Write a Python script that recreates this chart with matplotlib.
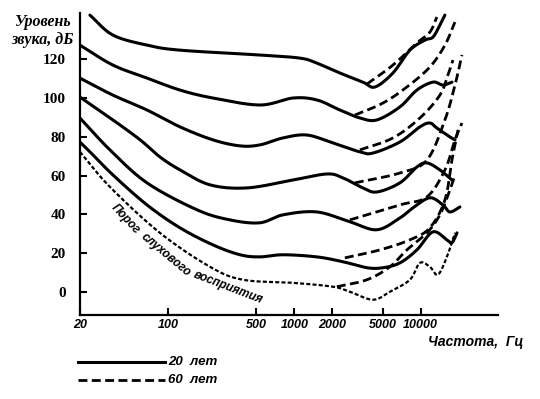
import numpy as np
import matplotlib.pyplot as plt
from matplotlib.lines import Line2D

# кривые равной громкости, 20 лет (сплошные): частота, Гц / уровень, дБ
f_120 = [24.0, 36.5, 68, 124, 532, 1105, 1504, 2290, 3483, 4337, 6016, 8202, 10790, 12470, 14170, 15530]
db_120 = [142.8, 132.5, 127.3, 124.7, 122.2, 120.6, 118, 112.9, 108.2, 105.7, 112.9, 124.7, 129.9, 131.4, 137.6, 142.8]

f_100 = [20, 36.5, 68, 124, 226, 532, 973, 1504, 2290, 3297, 4496, 6834, 9314, 12470, 14970, 17660]
db_100 = [127.3, 117, 110.3, 104.1, 100, 96.4, 100, 99, 93.8, 89.7, 88.7, 95.4, 104.1, 108.2, 106.7, 108.2]

f_80 = [20, 36.5, 68, 124, 226, 370, 532, 811, 1254, 2015, 3297, 4182, 6834, 9843, 11800, 13420, 17020, 18660]
db_80 = [110.3, 101.5, 93.8, 85.1, 78.4, 75.3, 75.8, 79.4, 80.9, 76.8, 72.2, 71.6, 77.3, 85.1, 87.1, 84.5, 79.9, 78.4]

f_60 = [20, 36.5, 60, 86, 124, 214, 421, 973, 1806, 2417, 3483, 4496, 6834, 9314, 11190, 14170, 17660]
db_60 = [100.5, 88.7, 78.4, 69.6, 62.9, 55.2, 53.6, 57.7, 60.8, 58.8, 53.6, 51.5, 56.2, 64.4, 66.5, 62.9, 57.7]

f_40 = [20, 34.6, 68, 169, 308, 532, 811, 1504, 2746, 4496, 6834, 8665, 11800, 14970, 17020, 20430]
db_40 = [89.7, 73.2, 56.2, 42.3, 37.1, 35.6, 39.7, 41.2, 36.1, 32, 38.1, 43.3, 48.5, 44.8, 41.2, 43.8]

f_20 = [20, 23.2, 36.5, 68, 124, 226, 370, 532, 811, 1504, 2417, 3749, 5012, 6834, 9314, 12470, 16100, 17660, 19360]
db_20 = [77.3, 73.2, 60.3, 44.8, 33, 24.2, 19.1, 18, 19.1, 18, 15.5, 12.4, 12.4, 14.9, 21.6, 30.9, 26.8, 25.3, 30.4]

# порог слухового восприятия, 20 лет
f_thr = [20, 34.6, 86, 214, 391, 973, 2015, 2746, 4182, 5700, 8202, 9843, 11800, 13670, 16100, 18660]
db_thr = [72.2, 54.1, 30.4, 12.9, 6.2, 4.6, 2.6, 0, -4.1, 0, 6.2, 14.9, 12.9, 8.8, 18, 30.4]

# 60 лет (штриховые), ответвления в области высоких частот
f_120_old = [3749, 6016, 9314, 11800, 13420]
db_120_old = [107.2, 117, 128.4, 134, 141.8]
f_100_old = [3010, 5012, 7764, 11800, 15530, 18660]
db_100_old = [91.2, 97.4, 105.7, 116, 127.3, 139.2]
f_80_old = [3297, 6016, 9843, 14170, 16400, 17990]
db_80_old = [73.2, 79.4, 89.7, 101.5, 111.9, 119.6]
f_60_old = [3010, 6834, 11190, 15530, 18660, 21190]
db_60_old = [56.2, 61.3, 68, 88.7, 106.7, 122.2]
f_40_old = [2746, 6834, 11190, 15530, 18660, 21190]
db_40_old = [37.1, 44.8, 49, 62.9, 78.4, 87.1]
f_20_old = [2507, 4748, 8202, 11800, 15530, 17660, 19730]
db_20_old = [17.5, 21.6, 26.8, 33, 47.4, 68, 83.5]
f_thr_old = [2167, 3749, 5700, 7764, 11190, 14170, 17020, 18660]
db_thr_old = [2.6, 6.2, 12.9, 21.6, 30.4, 39.7, 52.6, 60.3]

x_ticks = [20, 100, 500, 1000, 2000, 5000, 10000]
y_ticks = [0, 20, 40, 60, 80, 100, 120]


def smooth(f, db, n=24):
    # сглаживание Catmull-Rom в координатах (lg f, дБ)
    pts = np.column_stack([np.log10(f), db])
    p = np.vstack([2 * pts[0] - pts[1], pts, 2 * pts[-1] - pts[-2]])
    t = np.linspace(0, 1, n, endpoint=False)[:, None]
    out = []
    for i in range(1, len(p) - 2):
        p0, p1, p2, p3 = p[i - 1], p[i], p[i + 1], p[i + 2]
        out.append(0.5 * (2 * p1 + (-p0 + p2) * t + (2 * p0 - 5 * p1 + 4 * p2 - p3) * t ** 2
                          + (-p0 + 3 * p1 - 3 * p2 + p3) * t ** 3))
    out.append(p[-2][None, :])
    arr = np.vstack(out)
    return 10 ** arr[:, 0], arr[:, 1]


fig = plt.figure(figsize=(5.4, 3.99), dpi=100)
ax = fig.add_axes([0.148, 0.211, 0.774, 0.756])

for f, db in [(f_120, db_120), (f_100, db_100), (f_80, db_80), (f_60, db_60), (f_40, db_40), (f_20, db_20)]:
    ax.plot(*smooth(f, db), color='black', lw=2.2, solid_capstyle='round')

for f, db in [(f_120_old, db_120_old), (f_100_old, db_100_old), (f_80_old, db_80_old),
              (f_60_old, db_60_old), (f_40_old, db_40_old), (f_20_old, db_20_old), (f_thr_old, db_thr_old)]:
    ax.plot(*smooth(f, db), color='black', lw=2.0, dashes=(3.2, 1.6))

ax.plot(*smooth(f_thr, db_thr), color='black', lw=1.6, dashes=(1.8, 1.0))

ax.set_xscale('log')
ax.set_xlim(20, 40800)
ax.set_ylim(-11.9, 143.8)
ax.set_xticks(x_ticks)
ax.set_xticklabels([str(v) for v in x_ticks], fontfamily='Liberation Sans',
                   fontweight='bold', fontstyle='italic', fontsize=9)
ax.xaxis.set_minor_locator(plt.NullLocator())
ax.set_yticks(y_ticks)
ax.set_yticklabels([str(v) for v in y_ticks], fontfamily='Liberation Serif',
                   fontweight='bold', fontsize=11)
ax.tick_params(axis='x', direction='in', length=5, width=1.5, pad=3)
ax.tick_params(axis='y', direction='in', length=5, width=1.5, pad=10)
for s in ['top', 'right']:
    ax.spines[s].set_visible(False)
for s in ['left', 'bottom']:
    ax.spines[s].set_linewidth(1.6)

fig.text(43 / 540, 1 - 31 / 399, 'Уровень\nзвука, дБ', ha='center', va='center',
         family='Liberation Serif', weight='bold', style='italic', fontsize=11.5, linespacing=1.25)
fig.text(428 / 540, 1 - 342 / 399, 'Частота,  Гц', ha='left', va='center',
         family='Liberation Sans', weight='bold', style='italic', fontsize=10)

# подпись порога
lbl = dict(family='Liberation Sans', weight='bold', style='italic', fontsize=8.5, ha='center', va='center')
fig.text(126 / 540, 1 - 219 / 399, 'Порог', rotation=-47, **lbl)
fig.text(166 / 540, 1 - 255 / 399, 'слухового', rotation=-40, **lbl)
fig.text(228 / 540, 1 - 288 / 399, 'восприятия', rotation=-21, **lbl)

# легенда
fig.add_artist(Line2D([78 / 540, 165 / 540], [1 - 362 / 399] * 2, color='black', lw=2.2))
fig.add_artist(Line2D([78 / 540, 165 / 540], [1 - 380 / 399] * 2, color='black', lw=2.0, dashes=(3.2, 1.6)))
leg = dict(family='Liberation Sans', weight='bold', style='italic', fontsize=9.5, ha='left', va='center')
fig.text(168 / 540, 1 - 362 / 399, '20  лет', **leg)
fig.text(168 / 540, 1 - 380 / 399, '60  лет', **leg)

fig.savefig('out.png', dpi=100)
